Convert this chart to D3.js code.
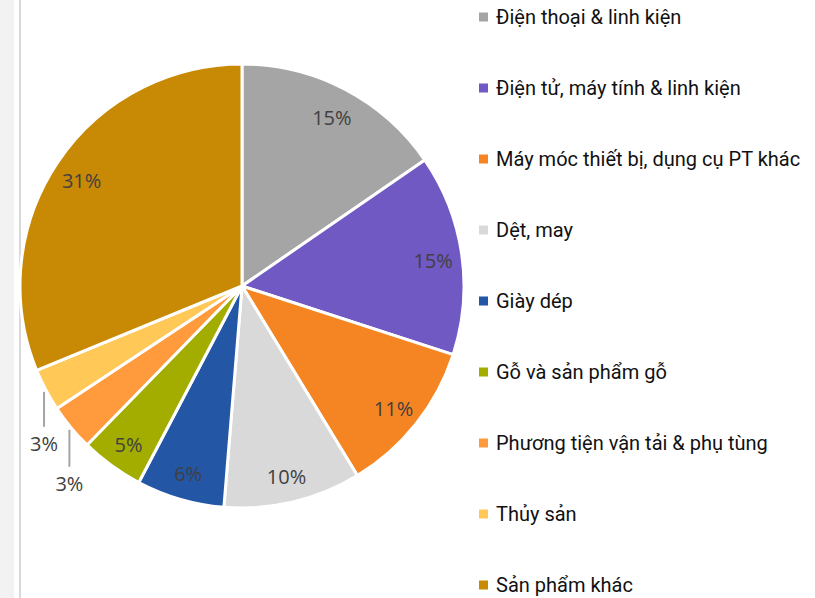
<!DOCTYPE html>
<html>
<head>
<meta charset="utf-8">
<script src="https://cdn.jsdelivr.net/npm/d3@7"></script>
<style>
  body { margin: 0; background: #fff; }
  svg { display: block; }
</style>
</head>
<body>
<div id="chart"></div>
<script>
const categories = [
  "Điện thoại & linh kiện",
  "Điện tử, máy tính & linh kiện",
  "Máy móc thiết bị, dụng cụ PT khác",
  "Dệt, may",
  "Giày dép",
  "Gỗ và sản phẩm gỗ",
  "Phương tiện vận tải & phụ tùng",
  "Thủy sản",
  "Sản phẩm khác"
];
const shares = [15.4, 14.6, 11.3, 10.0, 6.4, 4.6, 3.4, 3.1, 31.2];
const colors = ["#A5A5A5", "#7059C2", "#F58522", "#D9D9D9", "#2456A6", "#A3AD00", "#FF9B3D", "#FFC857", "#C88A04"];

const data = categories.map((c, i) => ({ name: c, value: shares[i], color: colors[i] }));

const width = 815, height = 598;
const cx = 242, cy = 286, r = 222;

const svg = d3.select("#chart").append("svg")
  .attr("width", width)
  .attr("height", height);

// left frame strip
svg.append("rect").attr("x", 0).attr("y", 0).attr("width", 14).attr("height", height).attr("fill", "#F2F2F2");
svg.append("rect").attr("x", 19).attr("y", 0).attr("width", 2).attr("height", height).attr("fill", "#D9D9D9");

const pie = d3.pie().value(d => d.value).sort(null);
const arcs = pie(data);
const arc = d3.arc().innerRadius(0).outerRadius(r);
const labelArc = d3.arc().innerRadius(r * 0.87).outerRadius(r * 0.87);

const g = svg.append("g").attr("transform", "translate(" + cx + "," + cy + ")");

g.selectAll("path")
  .data(arcs)
  .enter().append("path")
  .attr("d", arc)
  .attr("fill", d => d.data.color)
  .attr("stroke", "#fff")
  .attr("stroke-width", 3)
  .attr("stroke-linejoin", "round");

const fmt = d => Math.round(d.data.value) + "%";

// inside labels
g.selectAll(".lbl")
  .data(arcs.filter(d => d.data.value > 4))
  .enter().append("text")
  .attr("class", "lbl")
  .attr("transform", d => "translate(" + labelArc.centroid(d) + ")")
  .attr("text-anchor", "middle")
  .attr("dy", "0.5em")
  .style("font-family", "'Open Sans', sans-serif")
  .style("font-size", "20px")
  .attr("fill", "#404040")
  .text(fmt);

// small slices: leader line straight down from the rim
const small = arcs.filter(d => d.data.value <= 4);
const drop = [36, 38];
small.forEach((d, i) => {
  const a = (d.startAngle + d.endAngle) / 2;
  const x0 = Math.sin(a) * (r + 2);
  const y0 = -Math.cos(a) * (r + 2);
  const k = small.length - 1 - i;
  g.append("line")
    .attr("x1", x0).attr("y1", y0 + 1)
    .attr("x2", x0).attr("y2", y0 + drop[k])
    .attr("stroke", "#A5A5A5")
    .attr("stroke-width", 2);
  g.append("text")
    .attr("x", x0)
    .attr("y", y0 + drop[k] + 24)
    .attr("text-anchor", "middle")
    .style("font-family", "'Open Sans', sans-serif")
    .style("font-size", "20px")
    .attr("fill", "#404040")
    .text(fmt(d));
});

// legend
const legend = svg.append("g").attr("transform", "translate(479,0)");
const rowY = d3.scalePoint().domain(categories).range([17, 585]);

const item = legend.selectAll(".item")
  .data(data)
  .enter().append("g")
  .attr("class", "item")
  .attr("transform", d => "translate(0," + rowY(d.name) + ")");

item.append("rect")
  .attr("x", 0).attr("y", -4.5)
  .attr("width", 9).attr("height", 9)
  .attr("fill", d => d.color);

item.append("text")
  .attr("x", 17)
  .attr("dy", "0.35em")
  .style("font-family", "Roboto, sans-serif")
  .style("font-size", "20px")
  .attr("fill", "#111")
  .text(d => d.name);
</script>
</body>
</html>
